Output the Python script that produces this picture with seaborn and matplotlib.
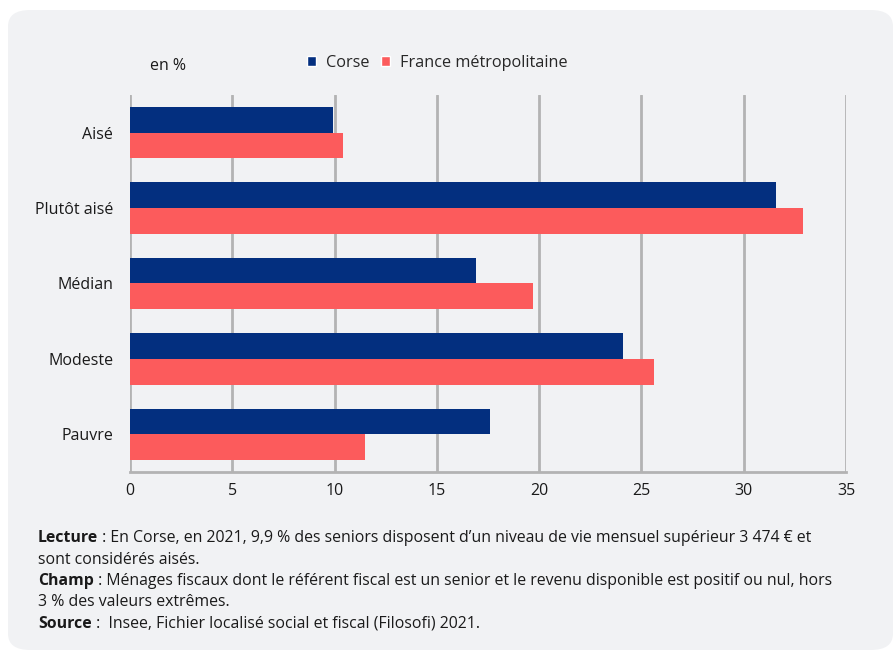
import matplotlib
matplotlib.use("Agg")
import matplotlib.pyplot as plt
from matplotlib.patches import FancyBboxPatch, Patch
import seaborn as sns
import pandas as pd

categories = ["Aisé", "Plutôt aisé", "Médian", "Modeste", "Pauvre"]
corse = [9.9, 31.6, 16.9, 24.1, 17.6]
france = [10.4, 32.9, 19.7, 25.6, 11.5]
series = ["Corse", "France métropolitaine"]
colors = ["#032f7f", "#fc5b5c"]

df = pd.DataFrame({
    "categorie": categories * 2,
    "valeur": corse + france,
    "zone": [series[0]] * 5 + [series[1]] * 5,
})

sns.set_theme(style="white")
plt.rcParams["font.family"] = ["Open Sans", "DejaVu Sans"]

W, H = 893, 653
fig = plt.figure(figsize=(W / 100, H / 100), dpi=100)
fig.patch.set_facecolor("white")

panel = FancyBboxPatch((8 / W, 3 / H), (W - 8) / W, (H - 13) / H,
                       boxstyle="round,pad=0,rounding_size=0.025",
                       transform=fig.transFigure, facecolor="#f1f2f4",
                       edgecolor="none", zorder=-10)
fig.patches.append(panel)

ax = fig.add_axes([130 / W, 1 - 472 / H, (846 - 130) / W, (472 - 95) / H])
ax.set_facecolor("none")
ax.set_zorder(5)

sns.barplot(data=df, x="valeur", y="categorie", hue="zone", order=categories,
            hue_order=series, palette=colors, orient="h", width=0.68,
            saturation=1, ax=ax, legend=False, zorder=3, linewidth=0)

ax.set_xlim(0, 35)
ax.set_ylim(4.5, -0.5)
ax.set_xticks(range(0, 36, 5))
ax.grid(axis="x", color="#b3b3b3", linewidth=2, zorder=0)
ax.set_axisbelow(True)
for s in ["top", "right", "left"]:
    ax.spines[s].set_visible(False)
ax.spines["bottom"].set_color("#b3b3b3")
ax.spines["bottom"].set_linewidth(2)
ax.set_xlabel("")
ax.set_ylabel("")
ax.tick_params(axis="both", length=0, labelsize=11.5, colors="#1a1a1a", pad=8)
ax.tick_params(axis="y", pad=12)

fig.text(150 / W, 1 - 66 / H, "en %", fontsize=11.5, color="#1a1a1a", va="center")

handles = [Patch(facecolor=c, label=l) for c, l in zip(colors, series)]
fig.legend(handles=handles, loc="center left", bbox_to_anchor=(307 / W, 1 - 63 / H),
           ncol=2, frameon=False, fontsize=11.7, handlelength=0.55, handleheight=0.55,
           handletextpad=0.6, columnspacing=0.75, borderaxespad=0, borderpad=0)

notes = [
    ("Lecture", " : En Corse, en 2021, 9,9 % des seniors disposent d’un niveau de vie mensuel supérieur 3 474 € et"),
    (None, "sont considérés aisés."),
    ("Champ", " : Ménages fiscaux dont le référent fiscal est un senior et le revenu disponible est positif ou nul, hors"),
    (None, "3 % des valeurs extrêmes."),
    ("Source", " :  Insee, Fichier localisé social et fiscal (Filosofi) 2021."),
]
y = 538
renderer = fig.canvas.get_renderer()
for bold, rest in notes:
    x = 38 / W
    if bold:
        t = fig.text(x, 1 - y / H, bold, fontsize=11.45, fontweight="bold",
                     color="#1a1a1a", va="center")
        bb = t.get_window_extent(renderer=renderer)
        x = bb.x1 / W
    fig.text(x, 1 - y / H, rest, fontsize=11.45, color="#1a1a1a", va="center")
    y += 21.5

fig.savefig("out.png", dpi=100, facecolor="white")
